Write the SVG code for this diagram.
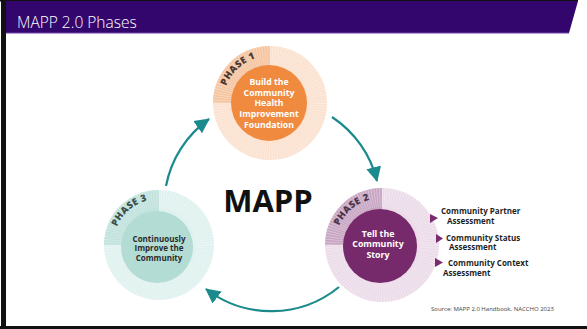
<svg xmlns="http://www.w3.org/2000/svg" width="587" height="329" viewBox="0 0 587 329">
<style>
.title{font-family:"Open Sans","Noto Sans",sans-serif;font-weight:300;font-size:15.5px;fill:#ffffff}
.inner{font-family:"Open Sans","Noto Sans",sans-serif;font-weight:700;text-anchor:middle}
.phase{font-family:"Open Sans","Noto Sans",sans-serif;font-weight:800;font-size:9.5px;letter-spacing:0.4px;text-anchor:middle}
.lbl{font-family:"Open Sans","Noto Sans",sans-serif;font-weight:700;font-size:8px;fill:#1f1f1f}
.stripe{fill:none;stroke:#ffffff;stroke-opacity:0.35;stroke-width:19;stroke-dasharray:0.8 1.6}
.conn{fill:none;stroke:#1b8a8d;stroke-width:2.2;marker-end:url(#ah)}
.tri{fill:#7a2a6e}
</style>
<defs>
<marker id="ah" viewBox="0 0 16 16" markerWidth="16" markerHeight="16" refX="14" refY="8" orient="auto" markerUnits="userSpaceOnUse">
<path d="M0,0.5 L15,8 L0,15.5 z" fill="#1b8a8d"/>
</marker>
<path id="tp1" d="M223,103 A47,47 0 0 1 270,56"/>
<path id="tp2" d="M335,245 A47,47 0 0 1 382,198"/>
<path id="tp3" d="M113,245 A46,46 0 0 1 159,199"/>
</defs>
<rect x="0" y="0" width="587" height="329" fill="#ffffff"/>
<g id="frame">
<rect x="0" y="0" width="578" height="1.5" fill="#111111"/>
<polygon points="5,1 578,1 569,33 5,33" fill="#33066e"/>
<line x1="5" y1="33" x2="569" y2="33" stroke="#6b45a6" stroke-width="1"/>
<rect x="1" y="0" width="5" height="329" fill="#111111"/>
<rect x="0" y="326" width="587" height="3" fill="#111111"/>
<text class="title" x="17" y="28">MAPP 2.0 Phases</text>
</g>
<g id="connectors">
<path class="conn" d="M166,186 A107,107 0 0 1 209,119"/>
<path class="conn" d="M332,117 A107,107 0 0 1 377,181"/>
<path class="conn" d="M339,287 A107,107 0 0 1 206,289"/>
</g>
<g id="phase1">
<circle cx="270" cy="103" r="57" fill="#fbe2d0"/>
<path d="M270,103 L213,103 A57,57 0 0 1 270,46 Z" fill="#f5c4a0"/>
<circle class="stripe" cx="270" cy="103" r="47.5"/>
<circle cx="269" cy="103" r="38" fill="#ef8a3e"/>
<text class="phase" fill="#4a3a33"><textPath href="#tp1" startOffset="52%">PHASE 1</textPath></text>
<text class="inner" font-size="8.7" fill="#ffffff"><tspan x="269" y="85">Build the</tspan><tspan x="269" y="95.7">Community</tspan><tspan x="269" y="106.4">Health</tspan><tspan x="269" y="117.1">Improvement</tspan><tspan x="269" y="127.8">Foundation</tspan></text>
</g>
<g id="phase2">
<circle cx="382" cy="245" r="57" fill="#ecdcea"/>
<path d="M382,245 L325,245 A57,57 0 0 1 382,188 Z" fill="#c8a6c3"/>
<circle class="stripe" cx="382" cy="245" r="47.5"/>
<circle cx="380" cy="246" r="37" fill="#772a6b"/>
<text class="phase" fill="#4d3549"><textPath href="#tp2" startOffset="55%">PHASE 2</textPath></text>
<text class="inner" font-size="8.8" fill="#ffffff"><tspan x="378" y="236.5">Tell the</tspan><tspan x="378" y="247">Community</tspan><tspan x="378" y="257.5">Story</tspan></text>
</g>
<g id="phase3">
<circle cx="159" cy="245" r="55" fill="#e0f2ef"/>
<path d="M159,245 L104,245 A55,55 0 0 1 159,190 Z" fill="#c0e2dd"/>
<circle class="stripe" cx="159" cy="245" r="46"/>
<circle cx="157" cy="247" r="36" fill="#b3dcd5"/>
<text class="phase" fill="#3d4f4c"><textPath href="#tp3" startOffset="55%">PHASE 3</textPath></text>
<text class="inner" font-size="8" fill="#2b2b2b"><tspan x="159" y="241.5">Continuously</tspan><tspan x="159" y="251">Improve the</tspan><tspan x="159" y="260.5">Community</tspan></text>
</g>
<g id="mapp">
<text x="268" y="212" font-family="Open Sans, Noto Sans, sans-serif" font-weight="700" font-size="31" fill="#111111" text-anchor="middle">MAPP</text>
</g>
<g id="assessments">
<polygon class="tri" points="430,214 438,218 430,223"/>
<polygon class="tri" points="436,234 443,238.5 436,243"/>
<polygon class="tri" points="435,258 443,262.5 435,267"/>
<text class="lbl"><tspan x="441" y="214">Community Partner</tspan><tspan x="447" y="224">Assessment</tspan></text>
<text class="lbl"><tspan x="446" y="240.5">Community Status</tspan><tspan x="449" y="250">Assessment</tspan></text>
<text class="lbl"><tspan x="448" y="266">Community Context</tspan><tspan x="443" y="276">Assessment</tspan></text>
</g>
<g id="source">
<text x="431" y="311" font-family="Open Sans, Noto Sans, sans-serif" font-size="6" fill="#444444">Source: MAPP 2.0 Handbook, NACCHO 2023</text>
</g>
</svg>
